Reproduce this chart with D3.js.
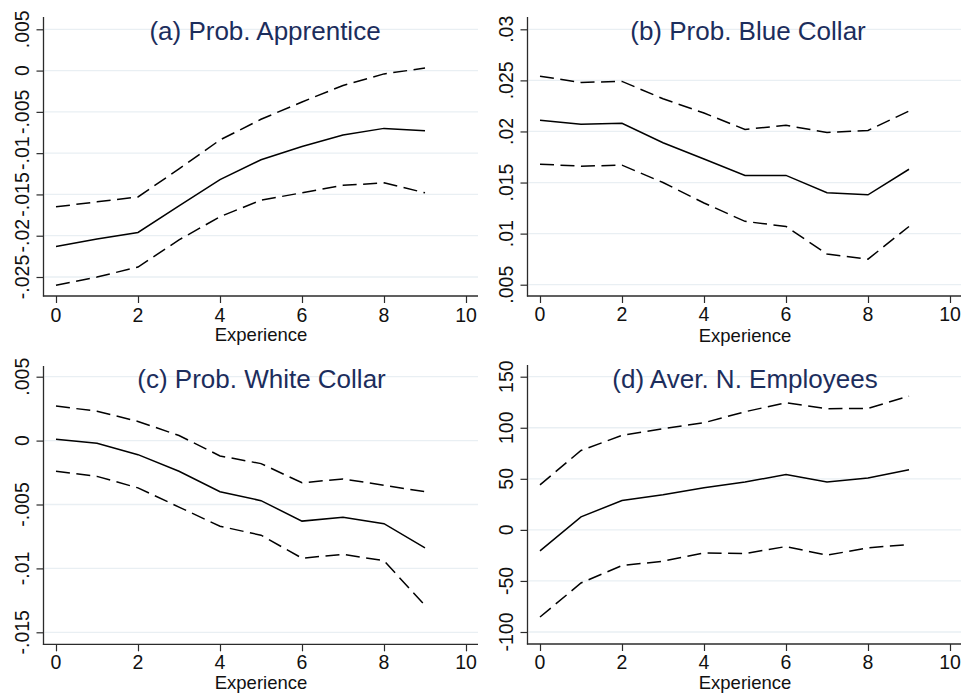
<!DOCTYPE html>
<html>
<head>
<meta charset="utf-8">
<script src="https://cdn.jsdelivr.net/npm/d3@7"></script>
<style>
  html, body { margin: 0; padding: 0; background: #ffffff; }
  svg { display: block; font-family: "Liberation Sans", Arial, Helvetica, sans-serif; }
</style>
</head>
<body>
<svg id="chart" width="961" height="693"></svg>
<script>
// Years of experience on the horizontal axis
const experience = [0, 1, 2, 3, 4, 5, 6, 7, 8, 9];
const xTicks = [0, 2, 4, 6, 8, 10];

// (a) Probability of apprenticeship: estimate and confidence band
const apprenticeEst   = [-0.0213, -0.0204, -0.0196, -0.0164, -0.0132, -0.0108, -0.0092, -0.0078, -0.0070, -0.0073];
const apprenticeUpper = [-0.0165, -0.0159, -0.0153, -0.0119, -0.0084, -0.0059, -0.0038, -0.0018, -0.0004, 0.0003];
const apprenticeLower = [-0.0260, -0.0250, -0.0238, -0.0205, -0.0177, -0.0157, -0.0148, -0.0139, -0.0136, -0.0148];
const apprenticeTicks = [0.005, 0, -0.005, -0.01, -0.015, -0.02, -0.025];
const apprenticeTickLabels = [".005", "0", "-.005", "-.01", "-.015", "-.02", "-.025"];

// (b) Probability of blue collar job
const blueEst   = [0.0211, 0.0207, 0.0208, 0.0189, 0.0173, 0.0157, 0.0157, 0.0140, 0.0138, 0.0163];
const blueUpper = [0.0254, 0.0248, 0.0249, 0.0232, 0.0218, 0.0202, 0.0206, 0.0199, 0.0201, 0.0220];
const blueLower = [0.0168, 0.0166, 0.0167, 0.0150, 0.0130, 0.0112, 0.0107, 0.0080, 0.0075, 0.0107];
const blueTicks = [0.03, 0.025, 0.02, 0.015, 0.01, 0.005];
const blueTickLabels = [".03", ".025", ".02", ".015", ".01", ".005"];

// (c) Probability of white collar job
const whiteEst   = [0.0001, -0.0002, -0.0011, -0.0024, -0.0040, -0.0047, -0.0063, -0.0060, -0.0065, -0.0084];
const whiteUpper = [0.0027, 0.0023, 0.0015, 0.0004, -0.0012, -0.0018, -0.0033, -0.0030, -0.0035, -0.0040];
const whiteLower = [-0.0024, -0.0028, -0.0037, -0.0052, -0.0067, -0.0074, -0.0092, -0.0089, -0.0094, -0.0129];
const whiteTicks = [0.005, 0, -0.005, -0.01, -0.015];
const whiteTickLabels = [".005", "0", "-.005", "-.01", "-.015"];

// (d) Average number of employees
const employeesEst   = [-20.6, 12.7, 28.8, 34.3, 41.2, 46.8, 54.3, 46.8, 50.7, 58.8];
const employeesUpper = [44.1, 77.8, 92.5, 99.0, 104.9, 115.7, 124.5, 118.6, 119.0, 131.0];
const employeesLower = [-85.3, -52.0, -34.9, -30.7, -22.5, -23.2, -16.3, -24.8, -17.6, -14.3];
const employeesTicks = [150, 100, 50, 0, -50, -100];
const employeesTickLabels = ["150", "100", "50", "0", "-50", "-100"];

const panels = [
  { title: "(a) Prob. Apprentice", est: apprenticeEst, upper: apprenticeUpper, lower: apprenticeLower,
    ticks: apprenticeTicks, labels: apprenticeTickLabels,
    axisX: 43.5, right: 478, top: 17, bottom: 296, tickTopPx: 29.3, tickBotPx: 277,
    titleX: 265, titleY: 40, yLabX: 28.5, xLabY: 322, xTitleY: 341 },
  { title: "(b) Prob. Blue Collar", est: blueEst, upper: blueUpper, lower: blueLower,
    ticks: blueTicks, labels: blueTickLabels,
    axisX: 527.5, right: 961, top: 17, bottom: 296, tickTopPx: 29.3, tickBotPx: 284.7,
    titleX: 748, titleY: 40, yLabX: 512.5, xLabY: 321, xTitleY: 341.5 },
  { title: "(c) Prob. White Collar", est: whiteEst, upper: whiteUpper, lower: whiteLower,
    ticks: whiteTicks, labels: whiteTickLabels,
    axisX: 43.5, right: 478, top: 366, bottom: 644.3, tickTopPx: 376.7, tickBotPx: 632.3,
    titleX: 261.5, titleY: 387.5, yLabX: 28.5, xLabY: 669, xTitleY: 689.3 },
  { title: "(d) Aver. N. Employees", est: employeesEst, upper: employeesUpper, lower: employeesLower,
    ticks: employeesTicks, labels: employeesTickLabels,
    axisX: 527.5, right: 961, top: 365, bottom: 644, tickTopPx: 376.7, tickBotPx: 632,
    titleX: 745, titleY: 387.5, yLabX: 512.5, xLabY: 669, xTitleY: 689.3 }
];

const svg = d3.select("#chart");
const axisColor = "#2b2b2b";
const gridColor = "#e9eff3";
const titleColor = "#1c2d5c";

panels.forEach(p => {
  const g = svg.append("g");

  // x: 0..10 spans 410 px, starting ~12 px right of the y axis
  const x = d3.scaleLinear().domain([0, 10]).range([p.axisX + 12.5, p.axisX + 422.5]);

  // y: anchored on the first and last tick, then stretched to the axis ends
  const tTop = p.ticks[0], tBot = p.ticks[p.ticks.length - 1];
  const y = d3.scaleLinear().domain([tBot, tTop]).range([p.tickBotPx, p.tickTopPx]);
  y.domain([y.invert(p.bottom), y.invert(p.top)]).range([p.bottom, p.top]);

  // horizontal gridlines
  g.append("g").selectAll("line").data(p.ticks).join("line")
    .attr("x1", p.axisX + 1).attr("x2", p.right)
    .attr("y1", d => y(d)).attr("y2", d => y(d))
    .attr("stroke", gridColor).attr("stroke-width", 1.3);

  // y axis
  const yAxis = d3.axisLeft(y).tickValues(p.ticks).tickSize(7).tickSizeOuter(0)
    .tickFormat((d, i) => p.labels[i]);
  const ya = g.append("g").attr("transform", `translate(${p.axisX},0)`).call(yAxis);
  ya.select(".domain").remove();
  ya.selectAll(".tick line").attr("stroke", axisColor).attr("stroke-width", 1.2);
  ya.selectAll(".tick text").remove();
  g.append("line").attr("x1", p.axisX).attr("x2", p.axisX).attr("y1", p.top).attr("y2", p.bottom + 0.6)
    .attr("stroke", axisColor).attr("stroke-width", 1.3);
  g.append("g").selectAll("text").data(p.ticks).join("text")
    .attr("transform", d => `translate(${p.yLabX},${y(d)}) rotate(-90)`)
    .attr("text-anchor", "middle")
    .attr("font-size", 19.5).attr("fill", "#111")
    .text((d, i) => p.labels[i]);

  // x axis
  const xAxis = d3.axisBottom(x).tickValues(xTicks).tickSize(7).tickSizeOuter(0)
    .tickFormat(d3.format("d"));
  const xa = g.append("g").attr("transform", `translate(0,${p.bottom})`).call(xAxis);
  xa.select(".domain").remove();
  xa.selectAll(".tick line").attr("stroke", axisColor).attr("stroke-width", 1.2);
  xa.selectAll(".tick text").remove();
  g.append("line").attr("x1", p.axisX - 0.6).attr("x2", p.right).attr("y1", p.bottom).attr("y2", p.bottom)
    .attr("stroke", axisColor).attr("stroke-width", 1.3);
  g.append("g").selectAll("text").data(xTicks).join("text")
    .attr("x", d => x(d)).attr("y", p.xLabY)
    .attr("text-anchor", "middle")
    .attr("font-size", 19.5).attr("fill", "#111")
    .text(d => d);
  g.append("text")
    .attr("x", x(5)).attr("y", p.xTitleY)
    .attr("text-anchor", "middle")
    .attr("font-size", 18.5).attr("fill", "#111")
    .text("Experience");

  // confidence band (dashed) and estimate (solid)
  const line = d3.line().x((d, i) => x(experience[i])).y(d => y(d));
  [p.upper, p.lower].forEach(series => {
    g.append("path").datum(series).attr("d", line)
      .attr("fill", "none").attr("stroke", "#000").attr("stroke-width", 1.5)
      .attr("stroke-dasharray", "14,6.5");
  });
  g.append("path").datum(p.est).attr("d", line)
    .attr("fill", "none").attr("stroke", "#000").attr("stroke-width", 1.5);

  // panel title
  g.append("text")
    .attr("x", p.titleX).attr("y", p.titleY)
    .attr("text-anchor", "middle")
    .attr("font-size", 26).attr("fill", titleColor)
    .text(p.title);
});
</script>
</body>
</html>
